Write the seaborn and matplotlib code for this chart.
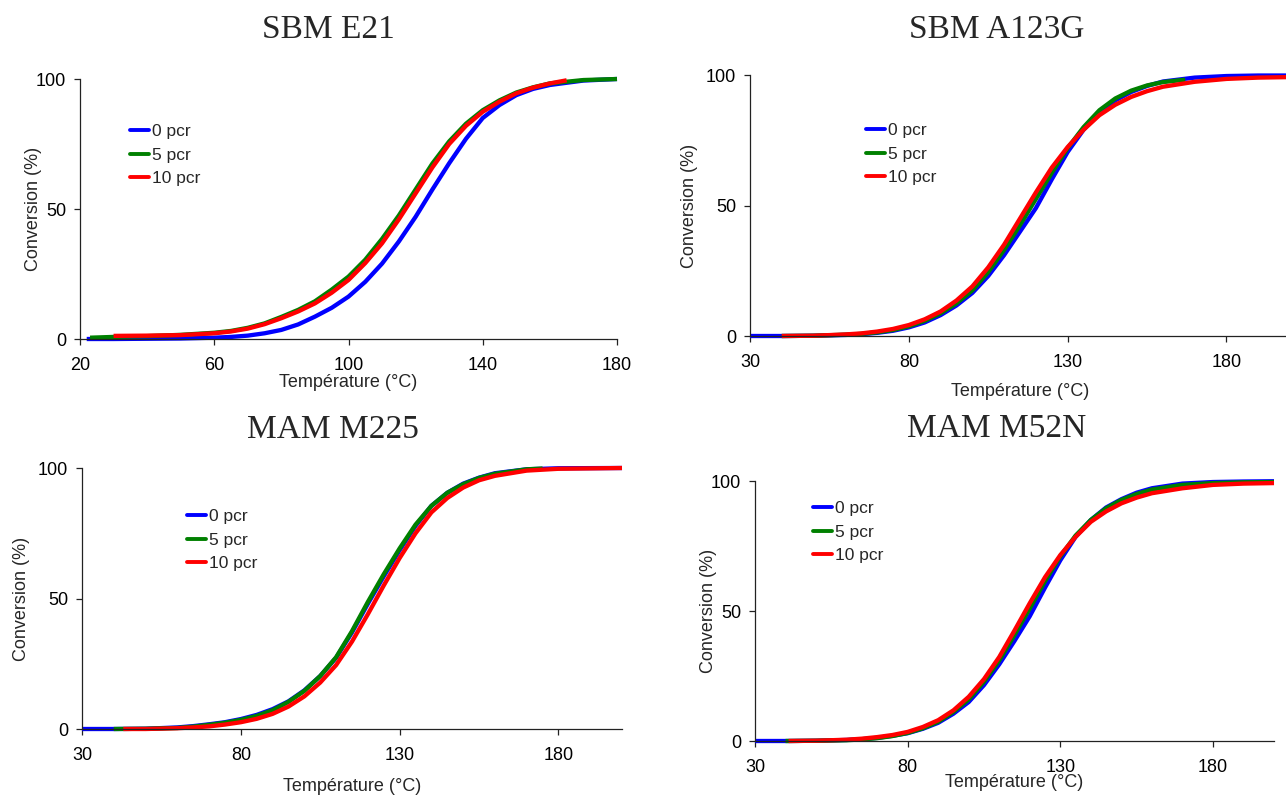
import pandas as pd
import seaborn as sns
import matplotlib.pyplot as plt

# --- data (temperature in °C, conversion in %) ---
series_names = ["0 pcr", "5 pcr", "10 pcr"]
series_colors = ["#0000FF", "#008000", "#FF0000"]

# SBM E21
e21_t_0 = [22, 30, 40, 50, 60, 65, 70, 75, 80, 85, 90, 95, 100, 105, 110, 115, 120, 125, 130, 135, 140, 145, 150, 155, 160, 170, 180]
e21_c_0 = [0, 0, 0.1, 0.2, 0.5, 0.8, 1.3, 2.2, 3.5, 5.6, 8.6, 12, 16.3, 22, 29, 37.5, 47, 57.5, 67.6, 77, 85, 90, 93.8, 96.2, 97.7, 99.4, 100]
e21_t_5 = [23, 30, 40, 50, 60, 65, 70, 75, 80, 85, 90, 95, 100, 105, 110, 115, 120, 125, 130, 135, 140, 145, 150, 155, 160, 170, 180]
e21_c_5 = [0.5, 0.8, 1.1, 1.6, 2.4, 3.1, 4.3, 6.0, 8.5, 11.2, 14.5, 19, 24, 30.5, 38.5, 47.5, 57.5, 67.5, 76, 82.8, 88, 91.8, 94.8, 96.8, 98.3, 99.6, 100]
e21_t_10 = [30, 40, 50, 60, 65, 70, 75, 80, 85, 90, 95, 100, 105, 110, 115, 120, 125, 130, 135, 140, 145, 150, 155, 160, 165]
e21_c_10 = [1.2, 1.3, 1.5, 2.2, 2.9, 4.0, 5.7, 8.0, 10.6, 13.7, 17.8, 22.7, 29.2, 36.8, 46, 56, 66, 75, 82, 87.4, 91.3, 94.5, 96.7, 98.3, 99.5]

# SBM A123G
a123_t_0 = [30, 40, 50, 60, 65, 70, 75, 80, 85, 90, 95, 100, 105, 110, 115, 120, 125, 130, 135, 140, 145, 150, 155, 160, 170, 180, 190, 200]
a123_c_0 = [0, 0, 0.1, 0.4, 0.7, 1.2, 2.0, 3.3, 5.2, 8.0, 11.7, 16.5, 23, 31, 40, 49, 60, 70.5, 79, 85.5, 90.3, 93.5, 95.8, 97.5, 99, 99.6, 99.8, 99.8]
a123_t_5 = [40, 50, 60, 65, 70, 75, 80, 85, 90, 95, 100, 105, 110, 115, 120, 125, 130, 135, 140, 145, 150, 155, 160, 167]
a123_c_5 = [0, 0.1, 0.5, 0.8, 1.4, 2.3, 3.7, 5.8, 8.7, 12.5, 17.5, 24.5, 33, 42.5, 52.5, 62.5, 72, 80, 86.5, 91, 94, 96, 97.3, 98.2]
a123_t_10 = [40, 50, 60, 65, 70, 75, 80, 85, 90, 95, 100, 105, 110, 115, 120, 125, 130, 135, 140, 145, 150, 155, 160, 170, 180, 190, 200]
a123_c_10 = [0, 0.1, 0.6, 1.0, 1.7, 2.7, 4.2, 6.4, 9.4, 13.6, 19, 26.3, 35, 45, 55, 64.5, 72.4, 79, 84.6, 88.6, 91.6, 93.8, 95.5, 97.4, 98.5, 99, 99.2]

# MAM M225
m225_t_0 = [30, 40, 50, 60, 65, 70, 75, 80, 85, 90, 95, 100, 105, 110, 115, 120, 125, 130, 135, 140, 145, 150, 155, 160, 170, 180, 200]
m225_c_0 = [0, 0, 0.1, 0.6, 1.1, 1.8, 2.6, 3.8, 5.4, 7.6, 10.6, 14.8, 20.3, 27.3, 37, 48, 58.5, 68.5, 77.8, 85.5, 90.5, 94, 96.3, 98, 99.5, 99.9, 100]
m225_t_5 = [40, 50, 60, 65, 70, 75, 80, 85, 90, 95, 100, 105, 110, 115, 120, 125, 130, 135, 140, 145, 150, 155, 160, 170, 175]
m225_c_5 = [0, 0.1, 0.4, 0.9, 1.6, 2.4, 3.5, 5.0, 7.2, 10.4, 14.6, 20.3, 27.5, 37.5, 48.7, 59.3, 69.2, 78.3, 85.5, 90.5, 93.8, 96.2, 97.8, 99.5, 99.8]
m225_t_10 = [43, 50, 60, 65, 70, 75, 80, 85, 90, 95, 100, 105, 110, 115, 120, 125, 130, 135, 140, 145, 150, 155, 160, 170, 180, 200]
m225_c_10 = [0, 0, 0.3, 0.6, 1.0, 1.7, 2.6, 3.9, 5.8, 8.6, 12.5, 17.8, 24.5, 33.5, 44, 55, 65.5, 75, 83, 88.5, 92.5, 95.3, 97, 99, 99.7, 100]

# MAM M52N
m52_t_0 = [30, 40, 50, 60, 65, 70, 75, 80, 85, 90, 95, 100, 105, 110, 115, 120, 125, 130, 135, 140, 145, 150, 155, 160, 170, 180, 190, 200]
m52_c_0 = [0, 0, 0.1, 0.4, 0.7, 1.2, 2.0, 3.0, 4.7, 7.0, 10.5, 15, 21.5, 29.5, 38.5, 48, 59, 69.5, 78.5, 85, 89.8, 93, 95.5, 97.2, 99, 99.6, 99.8, 99.9]
m52_t_5 = [40, 50, 60, 65, 70, 75, 80, 85, 90, 95, 100, 105, 110, 115, 120, 125, 130, 135, 140, 145, 150, 155, 160, 170, 180, 190, 200]
m52_c_5 = [0, 0.1, 0.3, 0.6, 1.1, 1.9, 3.1, 4.9, 7.4, 11.2, 16, 22.8, 31, 40.8, 51, 61.5, 71, 79, 85, 89.5, 92.7, 95, 96.7, 98.5, 99.2, 99.5, 99.6]
m52_t_10 = [41, 50, 60, 65, 70, 75, 80, 85, 90, 95, 100, 105, 110, 115, 120, 125, 130, 135, 140, 145, 150, 155, 160, 170, 180, 190, 200]
m52_c_10 = [0, 0.1, 0.5, 0.9, 1.5, 2.3, 3.5, 5.4, 8.0, 11.8, 17, 23.8, 32.3, 42.5, 53, 63, 71.5, 78.5, 84.3, 88.3, 91.4, 93.6, 95.3, 97.2, 98.5, 99, 99.2]

titles = ["SBM E21", "SBM A123G", "MAM M225", "MAM M52N"]
xticks_e21 = [20, 60, 100, 140, 180]
xticks_other = [30, 80, 130, 180]
yticks = [0, 50, 100]

W, H = 1286, 796


def long_df(curves):
    rows = []
    for name, (t, c) in zip(series_names, curves):
        rows.append(pd.DataFrame({"Température": t, "Conversion": c, "série": name}))
    return pd.concat(rows, ignore_index=True)


panels = [
    # data, xlim, xticks, axes box (px: left, right, y0, y100), title pos, ylabel right px, xlabel top px, legend (x, top)
    ([(e21_t_0, e21_c_0), (e21_t_5, e21_c_5), (e21_t_10, e21_c_10)], (20, 180), xticks_e21,
     (80, 617, 339, 79), (328, 30), 42, 374, (130, 124)),
    ([(a123_t_0, a123_c_0), (a123_t_5, a123_c_5), (a123_t_10, a123_c_10)], (30, 200), xticks_other,
     (750, 1290, 336, 75), (997, 30), 698, 383, (866, 123)),
    ([(m225_t_0, m225_c_0), (m225_t_5, m225_c_5), (m225_t_10, m225_c_10)], (30, 200), xticks_other,
     (82, 622, 729, 468), (333, 430), 30, 778, (187, 509)),
    ([(m52_t_0, m52_c_0), (m52_t_5, m52_c_5), (m52_t_10, m52_c_10)], (30, 200), xticks_other,
     (755, 1274, 741, 481), (997, 429), 717, 774, (813, 501)),
]

sns.set_theme(style="white")
plt.rcParams["font.family"] = ["Liberation Sans", "DejaVu Sans"]

fig = plt.figure(figsize=(W / 100, H / 100), dpi=100)

for i, (curves, xlim, xt, box, tpos, ylab_px, xlab_px, leg) in enumerate(panels):
    left, right, y0, y100 = box
    ax = fig.add_axes([left / W, 1 - y0 / H, (right - left) / W, (y0 - y100) / H])
    df = long_df(curves)
    sns.lineplot(
        data=df, x="Température", y="Conversion", hue="série",
        palette=dict(zip(series_names, series_colors)),
        estimator=None, sort=False, linewidth=3.1, ax=ax,
    )
    for ln in ax.lines:
        ln.set_clip_on(False)
        ln.set_solid_capstyle("butt")
        ln.set_solid_joinstyle("round")
    ax.set_xlim(*xlim)
    ax.set_ylim(0, 100)
    ax.set_xticks(xt)
    ax.set_yticks(yticks)
    sns.despine(ax=ax)
    for s in ["left", "bottom"]:
        ax.spines[s].set_color("#222222")
        ax.spines[s].set_linewidth(0.9)
    ax.tick_params(axis="both", which="major", direction="out", length=4, width=0.9,
                   color="#222222", labelsize=13, labelcolor="black", bottom=True, left=True)
    ax.tick_params(axis="x", pad=9)
    ax.tick_params(axis="y", pad=6)

    aw = right - left
    ah = y0 - y100
    ax.set_xlabel("Température (°C)", fontsize=13)
    ax.set_ylabel("Conversion (%)", fontsize=13)
    ax.xaxis.set_label_coords(0.5, -(xlab_px - y0) / ah)
    ax.yaxis.set_label_coords((ylab_px - left) / aw, 0.5)

    handles = [plt.Line2D([], [], color=c, linewidth=2.8) for c in series_colors]
    ax.legend(handles, series_names, loc="upper left",
              bbox_to_anchor=(leg[0] / W, 1 - leg[1] / H), bbox_transform=fig.transFigure,
              frameon=False, fontsize=12.5, handlelength=1.1, handletextpad=0.15,
              labelspacing=0.48, borderpad=0, borderaxespad=0)

    fig.text(tpos[0] / W, 1 - tpos[1] / H, titles[i], ha="center", va="center",
             fontsize=24, family=["Liberation Serif", "DejaVu Serif"])

fig.savefig("out.png", dpi=100)
